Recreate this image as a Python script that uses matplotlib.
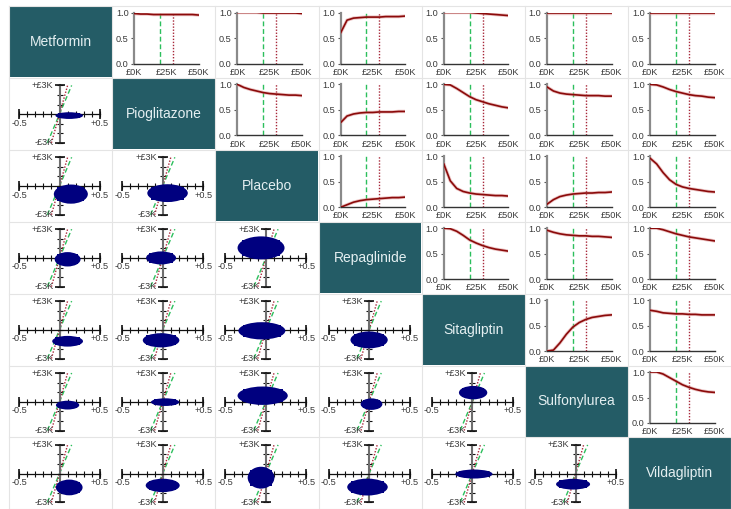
import numpy as np
import matplotlib
matplotlib.use("Agg")
import matplotlib.pyplot as plt
from matplotlib.patches import Ellipse, Rectangle
from matplotlib.lines import Line2D

plt.rcParams['font.family'] = ['Liberation Sans', 'DejaVu Sans']

treatments = ["Metformin", "Pioglitazone", "Placebo", "Repaglinide",
              "Sitagliptin", "Sulfonylurea", "Vildagliptin"]

# willingness-to-pay grid (£) and the two reference thresholds
wtp = [0, 5000, 10000, 15000, 20000, 25000, 30000, 35000, 40000, 45000, 50000]
thresholds = [20000, 30000]

# probability cost-effective, one list per pair (row treatment vs later column)
ceac_metformin = [
    [0.98, 0.97, 0.97, 0.96, 0.96, 0.96, 0.96, 0.96, 0.96, 0.96, 0.95],
    [1.00, 1.00, 1.00, 1.00, 0.99, 0.99, 0.99, 0.99, 0.99, 0.99, 0.98],
    [0.60, 0.85, 0.89, 0.90, 0.91, 0.91, 0.91, 0.92, 0.92, 0.92, 0.93],
    [1.00, 1.00, 1.00, 1.00, 1.00, 0.99, 0.98, 0.97, 0.96, 0.95, 0.94],
    [1.00, 1.00, 1.00, 1.00, 1.00, 1.00, 1.00, 1.00, 1.00, 1.00, 1.00],
    [1.00, 1.00, 1.00, 1.00, 1.00, 1.00, 1.00, 1.00, 1.00, 1.00, 1.00],
]
ceac_pioglitazone = [
    [1.00, 0.94, 0.90, 0.87, 0.84, 0.82, 0.81, 0.80, 0.79, 0.79, 0.78],
    [0.25, 0.38, 0.42, 0.44, 0.45, 0.45, 0.46, 0.46, 0.46, 0.47, 0.47],
    [1.00, 0.99, 0.92, 0.84, 0.76, 0.70, 0.66, 0.62, 0.59, 0.56, 0.54],
    [0.95, 0.87, 0.83, 0.81, 0.80, 0.79, 0.78, 0.78, 0.78, 0.77, 0.77],
    [1.00, 0.99, 0.95, 0.90, 0.86, 0.83, 0.80, 0.78, 0.77, 0.75, 0.74],
]
ceac_placebo = [
    [0.00, 0.05, 0.10, 0.13, 0.15, 0.16, 0.17, 0.18, 0.19, 0.19, 0.20],
    [0.85, 0.52, 0.37, 0.31, 0.28, 0.26, 0.25, 0.24, 0.23, 0.23, 0.22],
    [0.06, 0.15, 0.21, 0.24, 0.26, 0.27, 0.28, 0.28, 0.29, 0.29, 0.30],
    [0.96, 0.85, 0.68, 0.54, 0.45, 0.40, 0.37, 0.35, 0.33, 0.31, 0.30],
]
ceac_repaglinide = [
    [1.00, 0.99, 0.94, 0.86, 0.77, 0.71, 0.66, 0.62, 0.59, 0.57, 0.55],
    [0.96, 0.92, 0.89, 0.87, 0.86, 0.85, 0.85, 0.84, 0.84, 0.83, 0.82],
    [1.00, 1.00, 0.97, 0.93, 0.89, 0.86, 0.83, 0.81, 0.79, 0.77, 0.75],
]
ceac_sitagliptin = [
    [0.00, 0.02, 0.16, 0.33, 0.47, 0.56, 0.62, 0.66, 0.68, 0.70, 0.71],
    [0.80, 0.78, 0.75, 0.74, 0.73, 0.73, 0.72, 0.72, 0.71, 0.71, 0.71],
]
ceac_sulfonylurea = [
    [1.00, 1.00, 0.96, 0.89, 0.82, 0.75, 0.70, 0.66, 0.63, 0.61, 0.60],
]
ceac_rows = [ceac_metformin, ceac_pioglitazone, ceac_placebo,
             ceac_repaglinide, ceac_sitagliptin, ceac_sulfonylurea]

# incremental QALY / cost clouds (lower triangle, row by row):
# centre and half-extent of each simulated cloud
cloud_dq = [0.12,
            0.14, 0.06,
            0.10, -0.02, -0.06,
            0.10, -0.02, -0.05, 0.00,
            0.10, 0.03, -0.04, 0.03, 0.01,
            0.12, 0.00, -0.06, -0.02, 0.02, -0.03]
cloud_dc = [-150,
            -840, -740,
            -140, 0, 1050,
            -1190, -1090, -100, -1050,
            -350, -40, 630, -250, 950,
            -1440, -1230, -420, -1400, -40, -1100]
cloud_wq = [0.17,
            0.21, 0.25,
            0.16, 0.185, 0.29,
            0.19, 0.226, 0.29, 0.23,
            0.144, 0.175, 0.31, 0.134, 0.175,
            0.165, 0.21, 0.165, 0.25, 0.23, 0.21]
cloud_wc = [350,
            1000, 930,
            750, 680, 1200,
            560, 740, 900, 880,
            460, 400, 960, 600, 700,
            820, 700, 1140, 880, 470, 560]

BOX = '#245c66'
BOX_TEXT = '#e4eff1'
CURVE = '#8b0a0a'
GREEN = '#2cbf5c'
RED = '#a8283a'
NAVY = '#00007f'
LABEL = '#3a3a3a'

W, H = 731, 509
X0, Y0 = 9.0, 6.0
CW, CH = 103.2, 71.9

fig = plt.figure(figsize=(W / 100, H / 100), dpi=100)


def px_axes(left, top, w, h):
    return fig.add_axes([left / W, 1 - (top + h) / H, w / W, h / H])


# faint cell borders
grid_kw = dict(color='#e4e4e4', lw=0.8, transform=fig.transFigure)
for k in range(8):
    x = X0 + k * CW
    y = Y0 + k * CH
    fig.add_artist(Line2D([x / W, x / W], [1 - Y0 / H, 0], **grid_kw))
    fig.add_artist(Line2D([X0 / W, 1], [1 - y / H, 1 - y / H], **grid_kw))

n = len(treatments)
lower_idx = 0
for r in range(n):
    for c in range(n):
        cx = X0 + c * CW
        cy = Y0 + r * CH
        if r == c:
            ax = px_axes(cx + 0.5, cy + 0.5, CW - 1, CH - 1)
            ax.set_facecolor(BOX)
            ax.set_xticks([])
            ax.set_yticks([])
            for s in ax.spines.values():
                s.set_visible(False)
            ax.text(0.5, 0.5, treatments[r], color=BOX_TEXT, fontsize=10,
                    ha='center', va='center', transform=ax.transAxes)
        elif c > r:
            vals = ceac_rows[r][c - r - 1]
            ax = px_axes(cx + 22, cy + 6.5, 64.5, 51)
            ax.plot(wtp, vals, color='#d98a8a', lw=2.4, alpha=0.5,
                    solid_capstyle='round', zorder=3)
            ax.plot(wtp, vals, color=CURVE, lw=1.2, zorder=4)
            ax.axvline(thresholds[0], color=GREEN, lw=1.0, ls=(0, (3.5, 2)),
                       zorder=2)
            ax.axvline(thresholds[1], color=RED, lw=1.0, ls=(0, (1, 1.2)),
                       zorder=2)
            ax.set_xlim(0, 50000)
            ax.set_ylim(0, 1)
            ax.set_xticks([0, 25000, 50000])
            ax.set_xticklabels(['£0K', '£25K', '£50K'])
            ax.set_yticks([0, 0.5, 1.0])
            ax.set_yticklabels(['0.0', '0.5', '1.0'])
            ax.spines['top'].set_visible(False)
            ax.spines['right'].set_visible(False)
            ax.spines['left'].set_color('#8a8a8a')
            ax.spines['left'].set_linewidth(1.6)
            ax.spines['bottom'].set_color('#333333')
            ax.spines['bottom'].set_linewidth(1.0)
            ax.tick_params(axis='x', length=0, pad=3, labelsize=6.6,
                           labelcolor=LABEL)
            ax.tick_params(axis='y', length=2, width=0.8, pad=2,
                           labelsize=6.6, labelcolor=LABEL, color='#555555')
            ax.set_facecolor('none')
        else:
            i = lower_idx
            lower_idx += 1
            ax = px_axes(cx + 10, cy + 7.5, 81, 57.5)
            ax.set_xlim(-0.5, 0.5)
            ax.set_ylim(-3000, 3000)
            ax.set_facecolor('none')
            for t, col, ls in [(thresholds[0], GREEN, (0, (3.5, 2))),
                               (thresholds[1], RED, (0, (1, 1.2)))]:
                q = 3000 / t
                ax.plot([-q, q], [-3000, 3000], color=col, lw=1.0, ls=ls,
                        zorder=2, clip_on=False)
            # cloud body: an ellipse over a squarer core
            qx, cc = cloud_dq[i], cloud_dc[i]
            wq, wc = cloud_wq[i], cloud_wc[i]
            ax.add_patch(Ellipse((qx, cc), 2 * wq, 2 * wc,
                                 facecolor=NAVY, edgecolor='none', zorder=3))
            ax.add_patch(Rectangle((qx - 0.8 * wq, cc - 0.72 * wc),
                                   1.6 * wq, 1.44 * wc,
                                   facecolor=NAVY, edgecolor='none',
                                   zorder=3))
            ax.spines['top'].set_visible(False)
            ax.spines['right'].set_visible(False)
            ax.spines['left'].set_position(('data', 0))
            ax.spines['bottom'].set_position(('data', 0))
            ax.spines['left'].set_color('#6e6e6e')
            ax.spines['left'].set_linewidth(1.5)
            ax.spines['bottom'].set_color('#111111')
            ax.spines['bottom'].set_linewidth(0.9)
            ax.set_xticks(np.round(np.arange(-0.5, 0.51, 0.1), 2))
            ax.set_yticks(np.arange(-3000, 3001, 1000))
            ax.set_xticklabels([])
            ax.set_yticklabels([])
            ax.tick_params(direction='inout', length=4.5, width=0.8,
                           color='#111111')
            ax.plot([-0.5, 0.5], [0, 0], ls='none', marker='|', ms=7,
                    mew=1.2, color='#111111', clip_on=False, zorder=4)
            ax.plot([0, 0], [-3000, 3000], ls='none', marker='_', ms=7,
                    mew=1.2, color='#111111', clip_on=False, zorder=4)
            lab = dict(fontsize=6.6, color=LABEL, textcoords='offset pixels',
                       va='center', annotation_clip=False)
            ax.annotate('-0.5', xy=(-0.5, 0), xytext=(0, -9), ha='center', **lab)
            ax.annotate('+0.5', xy=(0.5, 0), xytext=(0, -9), ha='center', **lab)
            ax.annotate('+£3K', xy=(0, 3000), xytext=(-6, 0), ha='right', **lab)
            ax.annotate('-£3K', xy=(0, -3000), xytext=(-6, 0), ha='right', **lab)

fig.savefig('out.png', dpi=100, facecolor='white')
